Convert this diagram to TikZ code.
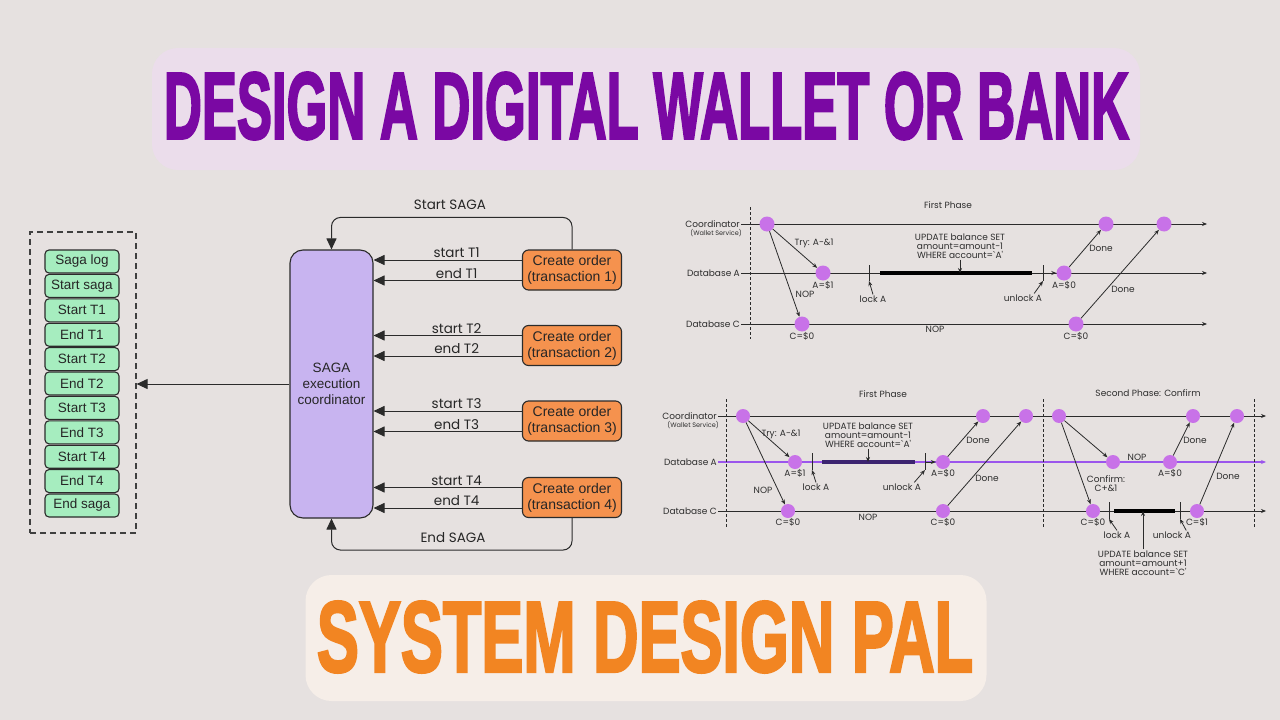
\documentclass[tikz,border=0pt]{standalone}
\usepackage{fontspec}
\usepackage{graphicx}
\setmainfont{Liberation Sans}
\newfontfamily\popf{Poppins}
\newfontfamily\titlef{Liberation Sans Bold}[FakeBold=3]
\usetikzlibrary{arrows.meta,calc}
\definecolor{bg}{HTML}{E6E1E0}
\definecolor{titlebg}{HTML}{EBDDEB}
\definecolor{titlefg}{HTML}{7A08A3}
\definecolor{palbg}{HTML}{F6EEE8}
\definecolor{palfg}{HTML}{F28522}
\definecolor{logfill}{HTML}{A6EDBF}
\definecolor{edge}{HTML}{2B2B2B}
\definecolor{secfill}{HTML}{C8B4F0}
\definecolor{ofill}{HTML}{F5924E}
\definecolor{dotc}{HTML}{C872E8}
\definecolor{lanep}{HTML}{9B55EC}
\definecolor{barp}{HTML}{3C2470}
\definecolor{txt}{HTML}{2E2E2E}
\begin{document}
\begin{tikzpicture}[x=1pt,y=-1pt,
  logitem/.style={draw=edge, fill=logfill, line width=1.1pt, rounded corners=4pt, minimum width=74pt, minimum height=23pt, inner sep=0pt, text=black!85, font=\fontsize{13.5}{15}\selectfont},
  secbox/.style={draw=edge, fill=secfill, line width=1.1pt, rounded corners=13pt, minimum width=83pt, minimum height=268pt, align=center, text=black!85, font=\fontsize{13.5}{16}\selectfont},
  obox/.style={draw=edge, fill=ofill, line width=1.1pt, rounded corners=6pt, minimum width=99pt, minimum height=40pt, inner sep=0pt, align=center, text=black!85, font=\fontsize{14}{16}\selectfont},
  bigarr/.style={draw=edge, line width=1pt, -{Triangle[length=11pt,width=10pt]}},
  alab/.style={font=\popf\fontsize{13.5}{15}\selectfont, text=black!85, inner sep=1.5pt},
  lane/.style={draw=edge, line width=0.8pt, -{Stealth[length=5pt,width=4pt]}},
  plane/.style={draw=lanep, line width=1.2pt, -{Stealth[length=5pt,width=4pt]}},
  msg/.style={draw=edge, line width=0.8pt, -{Stealth[length=5pt,width=4pt]}},
  dot/.style={circle, fill=dotc, minimum size=15pt, inner sep=0pt},
  sdot/.style={circle, fill=dotc, minimum size=14pt, inner sep=0pt},
  vdash/.style={draw=edge, line width=0.9pt, dash pattern=on 3pt off 2pt},
  sl/.style={font=\popf\fontsize{9}{9}\selectfont, text=txt, inner sep=1pt},
  ssl/.style={font=\popf\fontsize{6.5}{7}\selectfont, text=txt, inner sep=1pt},
  tickl/.style={draw=edge, line width=0.9pt},
  bar/.style={draw=black, line width=3.2pt},
  pbar/.style={draw=barp, line width=3.2pt}
]
\useasboundingbox (0,0) rectangle (1280,720);
\fill[bg] (0,0) rectangle (1280,720);

% ---------- titles ----------
\node[fill=titlebg, rounded corners=26pt, minimum width=988pt, minimum height=122pt] (tbox) at (646,109) {};
\node[text=titlefg, inner sep=0pt] (ttext) at (646.5,106) {\resizebox{965pt}{66pt}{\titlef DESIGN A DIGITAL WALLET OR BANK}};
\node[fill=palbg, rounded corners=26pt, minimum width=681pt, minimum height=126pt] (pbox) at (646,638) {};
\node[text=palfg, inner sep=0pt] (ptext) at (645,637) {\resizebox{656pt}{70pt}{\titlef SYSTEM DESIGN PAL}};

% ---------- saga log ----------
\node[draw=edge!90, line width=1.2pt, dash pattern=on 6pt off 4pt, minimum width=106pt, minimum height=301pt] (logbox) at (83,382.5) {};
\foreach \t [count=\i] in {Saga log,Start saga,Start T1,End T1,Start T2,End T2,Start T3,End T3,Start T4,End T4,End saga}
  \node[logitem] (l\i) at (82,{261.5+24.4*(\i-1)}) {\t};

% ---------- coordinator ----------
\node[secbox] (sec) at (331.5,384) {SAGA\\execution\\coordinator};
\draw[bigarr] (sec.west) -- (sec.west -| logbox.east);

\node[obox] (o1) at (572,270) {Create order\\(transaction 1)};
\node[obox] (o2) at (572,345.5) {Create order\\(transaction 2)};
\node[obox] (o3) at (572,421) {Create order\\(transaction 3)};
\node[obox] (o4) at (572,497.5) {Create order\\(transaction 4)};

\foreach \k in {1,2,3,4}{
  \draw[bigarr] ([yshift=10pt]o\k.west) -- ([yshift=10pt]o\k.west -| sec.east) node[alab, pos=0.44, above] {start T\k};
  \draw[bigarr] ([yshift=-10.5pt]o\k.west) -- ([yshift=-10.5pt]o\k.west -| sec.east) node[alab, pos=0.44, above] {end T\k};
}
\draw[bigarr, rounded corners=9pt] (o1.north) -- ++(0,-32) -| (sec.north);
\draw[bigarr, rounded corners=9pt] (o4.south) -- ++(0,32) -| (sec.south);
\node[alab] (ssaga) at (450,205) {Start SAGA};
\node[alab] (esaga) at (453,538) {End SAGA};

% ---------- sequence diagram 1 ----------
\node[sl] (ph1) at (948,205) {First Phase};
\node[sl, anchor=east] (d1c) at (741,224) {Coordinator};
\node[ssl, anchor=east] (d1w) at (743,233) {(Wallet Service)};
\node[sl, anchor=east] (d1a) at (741,273) {Database A};
\node[sl, anchor=east] (d1d) at (741,324) {Database C};
\coordinate (e1c) at (1207,224);
\coordinate (e1a) at (1207,273);
\coordinate (e1d) at (1207,324);
\draw[lane] (d1c.east) -- (e1c);
\draw[lane] (d1a.east) -- (e1a);
\draw[lane] (d1d.east) -- (e1d);
\coordinate (v1t) at (750,207); \coordinate (v1b) at (750,339);
\draw[vdash] (v1t) -- (v1b);
% lock / bar / unlock
\coordinate (k1t) at (869,265); \coordinate (k1b) at (869,281);
\draw[tickl] (k1t) -- (k1b);
\coordinate (b1s) at (880,273); \coordinate (b1e) at (1032,273);
\draw[bar] (b1s) -- (b1e);
\coordinate (u1t) at (1043,265); \coordinate (u1b) at (1043,281); \coordinate (u1m) at (1043,273);
\draw[tickl] (u1t) -- (u1b);
% dots
\node[dot] (p1) at (767,224) {};
\node[dot] (a1) at (823,273) {};
\node[dot] (c1) at (802,324) {};
\node[dot] (a2) at (1064,273) {};
\node[dot] (p2) at (1106,224) {};
\node[dot] (p3) at (1164,224) {};
\node[dot] (c2) at (1076,324) {};
% messages
\draw[msg] (p1) -- (a1);
\draw[msg] (p1) -- (c1);
\draw[msg] (u1m) -- (a2);
\draw[msg] (a2) -- (p2);
\draw[msg] (c2) -- (p3);
\node[sl] (t1) at (814,243) {Try: A-\&1};
\node[sl] (n1) at (805,294) {NOP};
\node[sl] (n1b) at (935,329) {NOP};
\node[sl] (dn1) at (1101,248) {Done};
\node[sl] (dn2) at (1123,289) {Done};
\node[sl] (va1) at (823,285) {A=\$1};
\node[sl] (vc1) at (802,336) {C=\$0};
\node[sl] (va2) at (1064,285) {A=\$0};
\node[sl] (vc2) at (1076,336) {C=\$0};
\node[sl, align=center] (sq1) at (960,246) {UPDATE balance SET\\amount=amount-1\\WHERE account=`A'};
\draw[msg] (sq1.south) -- (sq1.south |- b1s);
\node[sl] (lk1) at (873,299) {lock A};
\draw[msg] (lk1.north) -- (k1b);
\node[sl] (ul1) at (1023,298) {unlock A};
\draw[msg] ([xshift=-9pt]ul1.north east) -- (u1b);

% ---------- sequence diagram 2 ----------
\node[sl] (ph2) at (883,394) {First Phase};
\node[sl] (ph3) at (1148,393) {Second Phase: Confirm};
\node[sl, anchor=east] (d2c) at (718,416) {Coordinator};
\node[ssl, anchor=east] (d2w) at (720,425) {(Wallet Service)};
\node[sl, anchor=east] (d2a) at (718,462) {Database A};
\node[sl, anchor=east] (d2d) at (718,511) {Database C};
\coordinate (e2c) at (1266,416);
\coordinate (e2a) at (1266,462);
\coordinate (e2d) at (1266,511);
\draw[lane] (d2c.east) -- (e2c);
\draw[plane] (d2a.east) -- (e2a);
\draw[lane] (d2d.east) -- (e2d);
\foreach \xx/\nm in {726/v2, 1043/v3, 1254/v4}{
  \coordinate (\nm t) at (\xx,399); \coordinate (\nm b) at (\xx,527);
  \draw[vdash] (\nm t) -- (\nm b);
}
% first phase A bar
\coordinate (k2t) at (812,453); \coordinate (k2b) at (812,470);
\draw[tickl] (k2t) -- (k2b);
\coordinate (b2s) at (822,462); \coordinate (b2e) at (915,462);
\draw[pbar] (b2s) -- (b2e);
\coordinate (u2t) at (925,453); \coordinate (u2b) at (925,470); \coordinate (u2m) at (925,462);
\draw[tickl] (u2t) -- (u2b);
% second phase C bar
\coordinate (k3t) at (1109,502); \coordinate (k3b) at (1109,519);
\draw[tickl] (k3t) -- (k3b);
\coordinate (b3s) at (1114,511); \coordinate (b3e) at (1175,511);
\draw[bar] (b3s) -- (b3e);
\coordinate (u3t) at (1180,502); \coordinate (u3b) at (1180,519);
\draw[tickl] (u3t) -- (u3b);
% dots
\node[sdot] (q1) at (743,416) {};
\node[sdot] (a3) at (795,462) {};
\node[sdot] (c3) at (788,511) {};
\node[sdot] (a4) at (943,462) {};
\node[sdot] (c4) at (943,511) {};
\node[sdot] (q2) at (983,416) {};
\node[sdot] (q3) at (1026,416) {};
\node[sdot] (q4) at (1059,416) {};
\node[sdot] (a5) at (1113,462) {};
\node[sdot] (a6) at (1170,462) {};
\node[sdot] (q5) at (1193,416) {};
\node[sdot] (c5) at (1093,511) {};
\node[sdot] (c6) at (1197,511) {};
\node[sdot] (q6) at (1237,416) {};
% messages
\draw[msg] (q1) -- (a3);
\draw[msg] (q1) -- (c3);
\draw[msg] (u2m) -- (a4);
\draw[msg] (a4) -- (q2);
\draw[msg] (c4) -- (q3);
\draw[msg] (q4) -- (a5);
\draw[msg] (q4) -- (c5);
\draw[msg] (a6) -- (q5);
\draw[msg] (c6) -- (q6);
\node[sl] (t2) at (781,434) {Try: A-\&1};
\node[sl] (n2) at (763,490) {NOP};
\node[sl] (n2b) at (868,517) {NOP};
\node[sl] (n3) at (1137,457) {NOP};
\node[sl] (dn3) at (978,440) {Done};
\node[sl] (dn4) at (987,478) {Done};
\node[sl] (dn5) at (1195,440) {Done};
\node[sl] (dn6) at (1228,476) {Done};
\node[sl, align=center] (cf) at (1106,484) {Confirm:\\C+\&1};
\node[sl] (va3) at (795,473) {A=\$1};
\node[sl] (vc3) at (788,522) {C=\$0};
\node[sl] (va4) at (943,473) {A=\$0};
\node[sl] (vc4) at (943,522) {C=\$0};
\node[sl] (va6) at (1170,473) {A=\$0};
\node[sl] (vc5) at (1093,522) {C=\$0};
\node[sl] (vc6) at (1197,522) {C=\$1};
\node[sl, align=center] (sq2) at (868,435) {UPDATE balance SET\\amount=amount-1\\WHERE account=`A'};
\draw[msg] (sq2.south) -- (sq2.south |- b2s);
\node[sl] (lk2) at (816,487) {lock A};
\draw[msg] (lk2.north) -- (k2b);
\node[sl] (ul2) at (902,487) {unlock A};
\draw[msg] ([xshift=-8pt]ul2.north east) -- (u2b);
\node[sl] (lk3) at (1117,535) {lock A};
\draw[msg] (lk3.north) -- (k3b);
\node[sl] (ul3) at (1172,535) {unlock A};
\draw[msg] ([xshift=-6pt]ul3.north east) -- (u3b);
\node[sl, align=center] (sq3) at (1143,563) {UPDATE balance SET\\amount=amount+1\\WHERE account=`C'};
\draw[msg] (sq3.north) -- (sq3.north |- b3s);
\end{tikzpicture}
\end{document}
